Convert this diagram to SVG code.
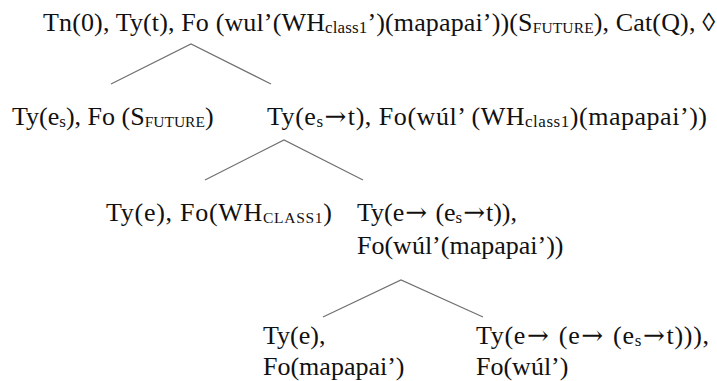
<svg xmlns="http://www.w3.org/2000/svg" width="717" height="381" viewBox="0 0 717 381">
  <style>
    text { font-family: 'Liberation Serif', 'DejaVu Serif', serif; font-size: 26px; fill: #111; }
    .sub { font-size: 17px; }
    .subc { font-size: 15.5px; }
    .arr { font-family: 'DejaVu Serif', serif; font-size: 26px; }
    .edge { stroke: #707070; stroke-width: 1.2; fill: none; }
  </style>
  <rect width="717" height="381" fill="#fff"/>

  <!-- tree branches -->
  <g id="connectors">
    <polyline class="edge" points="111,84 191,44 271,84"/>
    <polyline class="edge" points="205,180 284,140 363,180"/>
    <polyline class="edge" points="323,317 401,280 483,317"/>
  </g>

  <g font-family="Liberation Serif, DejaVu Serif, serif">
    <!-- root -->
    <g id="root">
      <text x="43" y="31" textLength="672" lengthAdjust="spacing">Tn(0), Ty(t), Fo (wul’(WH<tspan class="sub" dy="2">class1</tspan><tspan dy="-2">’)(mapapai’))(S</tspan><tspan class="subc" dy="2">FUTURE</tspan><tspan dy="-2">), Cat(Q), ◊</tspan></text>
    </g>

    <!-- level 2 -->
    <g id="node-es">
      <text x="12" y="125">Ty(e<tspan class="sub" dy="2">s</tspan><tspan dy="-2">), Fo (S</tspan><tspan class="subc" dy="2">FUTURE</tspan><tspan dy="-2">)</tspan></text>
    </g>
    <g id="node-es-t">
      <text x="267" y="125" textLength="440" lengthAdjust="spacing">Ty(e<tspan class="sub" dy="2">s</tspan><tspan class="arr" dy="-2" dx="1">→</tspan><tspan dx="1">t), Fo(wúl’ (WH</tspan><tspan class="sub" dy="2">class1</tspan><tspan dy="-2">)(mapapai’))</tspan></text>
    </g>

    <!-- level 3 -->
    <g id="node-wh">
      <text x="106" y="221" textLength="226" lengthAdjust="spacing">Ty(e), Fo(WH<tspan class="subc" dy="2">CLASS1</tspan><tspan dy="-2">)</tspan></text>
    </g>
    <g id="node-e-es-t">
      <text x="357" y="221" textLength="160" lengthAdjust="spacing">Ty(e<tspan class="arr" dx="1">→</tspan><tspan dx="2"> (e</tspan><tspan class="sub" dy="2">s</tspan><tspan class="arr" dy="-2" dx="1">→</tspan><tspan dx="1">t)),</tspan></text>
      <text x="357" y="254">Fo(wúl’(mapapai’))</text>
    </g>

    <!-- level 4 -->
    <g id="node-mapapai">
      <text x="263" y="344">Ty(e),</text>
      <text x="263" y="375">Fo(mapapai’)</text>
    </g>
    <g id="node-wul">
      <text x="476" y="344" textLength="233" lengthAdjust="spacing">Ty(e<tspan class="arr" dx="1">→</tspan><tspan dx="2"> (e</tspan><tspan class="arr" dx="1">→</tspan><tspan dx="2"> (e</tspan><tspan class="sub" dy="2">s</tspan><tspan class="arr" dy="-2" dx="1">→</tspan><tspan dx="1">t))),</tspan></text>
      <text x="476" y="375">Fo(wúl’)</text>
    </g>
  </g>
</svg>
